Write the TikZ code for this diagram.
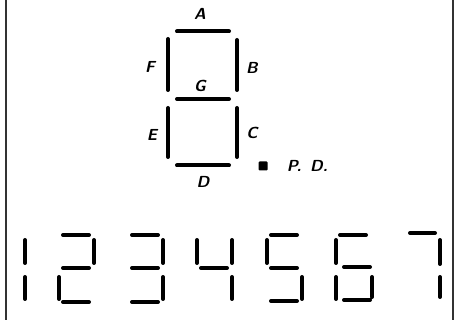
\documentclass[tikz,border=0pt]{standalone}
\usepackage{tikz}
\usetikzlibrary{positioning}

\begin{document}
\begin{tikzpicture}[x=1pt, y=-1pt,
    seg/.style={line width=4pt, line cap=round, black},
    lbl/.style={font=\fontsize{16}{18}\selectfont\sffamily\slshape\bfseries, inner sep=0pt},
    frame/.style={line width=2pt, black!80},
]
    \useasboundingbox (0,0) rectangle (458,320);

    % Side frame
    \draw[frame] (6,0) -- (6,320);
    \draw[frame] (453,0) -- (453,320);

    % Big digit segments
    \draw[seg] (177,31.5) -- (229,31.5);   % A
    \draw[seg] (237,40) -- (237,90);       % B
    \draw[seg] (237,108) -- (237,157);     % C
    \draw[seg] (177,165.5) -- (229,165.5); % D
    \draw[seg] (168,108) -- (168,157);     % E
    \draw[seg] (168,39) -- (168,90);       % F
    \draw[seg] (177,99) -- (229,99);       % G

    % Segment names
    \node[lbl] (la) at (200,14) {A};
    \node[lbl] (lb) at (252,68) {B};
    \node[lbl] (lc) at (252,133) {C};
    \node[lbl] (ld) at (203,182) {D};
    \node[lbl] (le) at (152,135) {E};
    \node[lbl] (lf) at (150,67) {F};
    \node[lbl] (lg) at (200,86) {G};

    % Decimal point
    \node[fill=black, minimum size=9pt, inner sep=0pt, rounded corners=1pt] (pd) at (263,166) {};
    \node[lbl, right=19pt of pd] (lpd) {P.\ \,D.};

    % Row of digits 1 to 7
    \begin{scope}[shift={(-10,235)}] % 1
        \draw[seg] (35,5) -- (35,28) (35,42) -- (35,64);
    \end{scope}
    \begin{scope}[shift={(59,235)}] % 2
        \draw[seg] (4,0) -- (30,0) (35,5) -- (35,28) (4,33) -- (30,33)
                   (0,42) -- (0,64) (4,67) -- (30,67);
    \end{scope}
    \begin{scope}[shift={(128,235)}] % 3
        \draw[seg] (4,0) -- (30,0) (35,5) -- (35,28) (4,33) -- (30,33)
                   (35,42) -- (35,64) (4,67) -- (30,67);
    \end{scope}
    \begin{scope}[shift={(197,235)}] % 4
        \draw[seg] (0,5) -- (0,28) (35,5) -- (35,28) (4,33) -- (30,33)
                   (35,42) -- (35,64);
    \end{scope}
    \begin{scope}[shift={(267,235)}] % 5
        \draw[seg] (4,0) -- (30,0) (0,5) -- (0,28) (4,33) -- (30,33)
                   (35,42) -- (35,64) (4,66) -- (30,66);
    \end{scope}
    \begin{scope}[shift={(336,235)}] % 6
        \draw[seg] (4,0) -- (30,0) (0,5) -- (0,28) (8,32) -- (34,32)
                   (0,42) -- (0,64) (36,42) -- (36,62) (8,65) -- (34,65);
    \end{scope}
    \begin{scope}[shift={(405,233)}] % 7
        \draw[seg] (5,0) -- (30,0) (35,7) -- (35,31) (35,44) -- (35,64);
    \end{scope}
\end{tikzpicture}
\end{document}
